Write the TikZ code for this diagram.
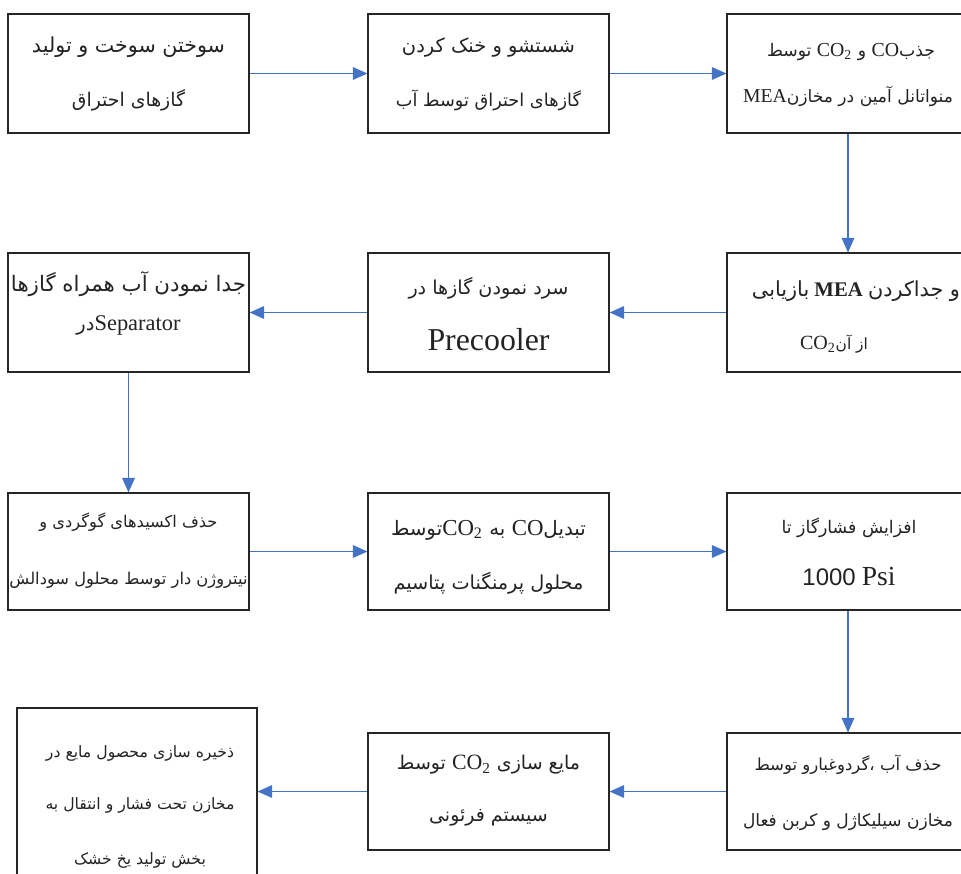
\documentclass[tikz,border=0pt]{standalone}
\usepackage{fontspec}
\usepackage{graphicx}
\setmainfont{Liberation Serif}
\newfontfamily\fa[Script=Arabic]{DejaVu Sans}
\newfontfamily\arialf{Liberation Sans}
\TeXXeTstate=1
\usetikzlibrary{arrows.meta,fit}
\definecolor{arrowblue}{RGB}{68,114,196}
\definecolor{txtgray}{RGB}{35,35,35}
\newdimen\pxu \pxu=0.75pt
\newcommand{\fw}[2]{\resizebox{#1\pxu}{!}{#2}}
\newcommand{\fws}[3]{\setbox0=\hbox{#2}\pgfmathsetmacro\fwsc{#1*0.75/\the\wd0}\scalebox{\fwsc}{#3}}
\newcommand{\FA}[1]{{\fa\fontsize{10}{12}\selectfont\beginR #1\endR}}
\newcommand{\LT}[1]{{\rmfamily\fontsize{11.5}{12}\selectfont #1}}
\newcommand{\LTs}[1]{{\rmfamily\fontsize{10}{12}\selectfont #1}}
\newcommand{\LTb}[1]{{\rmfamily\fontsize{13}{14}\selectfont #1}}
\newcommand{\COt}{CO\textsubscript{2}}
\tikzset{
  box/.style={draw=black!85, line width=0.8pt, inner sep=0pt},
  txt/.style={text=txtgray, inner sep=0pt, anchor=center},
  arr/.style={draw=arrowblue, line width=1pt, -{Triangle[length=11pt,width=9.5pt]}}
}
\begin{document}
\begin{tikzpicture}[x=0.75pt,y=-0.75pt]
\useasboundingbox (0,0) rectangle (961,874);
\clip (0,0) rectangle (961,874);
\fill[white] (0,0) rectangle (961,874);
% boxes
\node[box, fit={(8,14) (249,133)}] (b1) {};
\node[box, fit={(368,14) (609,133)}] (b2) {};
\node[box, fit={(727,14) (970,133)}] (b3) {};
\node[box, fit={(8,253) (249,372)}] (b4) {};
\node[box, fit={(368,253) (609,372)}] (b5) {};
\node[box, fit={(727,253) (970,372)}] (b6) {};
\node[box, fit={(8,493) (249,610)}] (b7) {};
\node[box, fit={(368,493) (609,610)}] (b8) {};
\node[box, fit={(727,493) (970,610)}] (b9) {};
\node[box, fit={(17,708) (257,895)}] (b10) {};
\node[box, fit={(368,733) (609,850)}] (b11) {};
\node[box, fit={(727,733) (970,850)}] (b12) {};
% texts
\node[txt] (t1a) at (128.5,47) {\fw{193}{\FA{سوختن  سوخت و تولید}}};
\node[txt] (t1b) at (128.5,100) {\fw{113}{\FA{گازهای احتراق}}};
\node[txt] (t2a) at (488.5,47) {\fw{173}{\FA{شستشو و خنک کردن}}};
\node[txt] (t2b) at (488.5,100) {\fw{185}{\FA{گازهای احتراق توسط آب}}};
\node[txt] (t3a) at (851,52) {\fw{168}{\FA{جذب\beginL\LT{CO}\endL{} و \beginL\LT{\COt}\endL{} توسط}}};
\node[txt] (t3b) at (848,97) {\fw{210}{\FA{منواتانل آمین در مخازن\beginL\LT{MEA}\endL}}};
\node[txt] (t4a) at (128.5,284) {\fw{235}{\FA{جدا نمودن آب همراه گازها}}};
\node[txt] (t4b) at (128.5,325) {\fw{104}{\FA{در}\LT{Separator}}};
\node[txt] (t5a) at (488.5,288) {\fw{160}{\FA{سرد نمودن گازها در}}};
\node[txt] (t5b) at (488.5,340) {\fw{122}{\LT{Precooler}}};
\node[txt] (t6a) at (856,291) {\fw{208}{\FA{بازیابی} \LTs{\bfseries MEA} \FA{و جداکردن}}};
\node[txt] (t6b) at (834,344) {\fw{68}{\LTb{\COt}\FA{از آن}}};
\node[txt] (t7a) at (128.5,522) {\fw{178}{\FA{حذف اکسیدهای گوگردی و}}};
\node[txt] (t7b) at (128.5,580) {\fw{238}{\FA{نیتروژن دار توسط محلول سودالش}}};
\node[txt] (t8a) at (488.5,530) {\fw{195}{\FA{تبدیل\beginL\LT{CO}\endL{} به \beginL\LT{\COt}\endL{}توسط}}};
\node[txt] (t8b) at (488.5,583) {\fw{190}{\FA{محلول پرمنگنات پتاسیم}}};
\node[txt] (t9a) at (849,528) {\fw{135}{\FA{افزایش فشارگاز تا}}};
\node[txt] (t9b) at (849,577) {\fw{93}{{\arialf 1000} \LT{Psi}}};
\node[txt] (t10a) at (140,753) {\fw{188}{\FA{ذخیره سازی محصول مایع در}}};
\node[txt] (t10b) at (140,805) {\fws{188}{\FA{ذخیره سازی محصول مایع در}}{\FA{مخازن تحت فشار و انتقال به}}};
\node[txt] (t10c) at (140,860) {\fws{188}{\FA{ذخیره سازی محصول مایع در}}{\FA{بخش تولید یخ خشک}}};
\node[txt] (t11a) at (488.5,765) {\fw{183}{\FA{مایع سازی \beginL\LT{\COt}\endL{} توسط}}};
\node[txt] (t11b) at (488.5,818) {\fws{183}{\FA{مایع سازی \beginL\LT{\COt}\endL{} توسط}}{\FA{سیستم فرئونی}}};
\node[txt] (t12a) at (848,765) {\fw{187}{\FA{حذف آب ،گردوغبارو توسط}}};
\node[txt] (t12b) at (848,822) {\fw{210}{\FA{مخازن سیلیکاژل و کربن فعال}}};
% connectors
\draw[arr] (b1.east) -- (b2.west);
\draw[arr] (b2.east) -- (b3.west);
\draw[arr] (b3.south -| t3b) -- (b6.north -| t3b);
\draw[arr] (b6.west) -- (b5.east);
\draw[arr] (b5.west) -- (b4.east);
\draw[arr] (b4.south) -- (b7.north);
\draw[arr] (b7.east) -- (b8.west);
\draw[arr] (b8.east) -- (b9.west);
\draw[arr] (b9.south -| t3b) -- (b12.north -| t3b);
\draw[arr] (b12.west) -- (b11.east);
\draw[arr] (b11.west) -- (b11.west -| b10.east);
\end{tikzpicture}
\end{document}
